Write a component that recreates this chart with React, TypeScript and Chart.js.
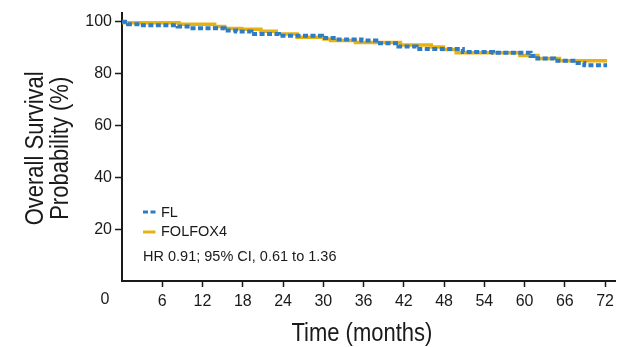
import React, { useEffect, useRef } from "react";
import { Chart, registerables } from "chart.js";

Chart.register(...registerables);

// Kaplan-Meier steps (month, overall survival %)
const flMonths = [0, 0.9, 2.7, 8.3, 10.1, 15.3, 17, 19.3, 23.4, 29.8, 31.9, 35.7, 37.9, 41.2, 43.9, 50.8, 55.3, 60.9, 61.9, 64.4, 67.9, 68.9, 72.3];
const flSurvival = [100, 99.0, 98.6, 98.1, 97.5, 96.6, 96.2, 95.2, 94.6, 93.7, 93.1, 92.7, 91.7, 90.4, 89.5, 88.3, 88.0, 86.8, 85.8, 84.9, 84.1, 83.2, 83.2];

const folfoxMonths = [0, 0.3, 8.5, 13.8, 15.3, 17.8, 20.7, 23, 26.1, 30.1, 31.1, 34.8, 41.5, 46.1, 47.9, 49.8, 59.3, 62, 65.2, 72.3];
const folfoxSurvival = [100, 99.6, 99.0, 98.1, 97.4, 97.1, 96.3, 95.2, 94.0, 93.3, 92.7, 92.0, 91.0, 90.2, 89.3, 88.0, 87.0, 85.8, 84.9, 84.9];

const xTicks = [6, 12, 18, 24, 30, 36, 42, 48, 54, 60, 66, 72];
const yTicks = [20, 40, 60, 80, 100];

const seriesNames = ["FL", "FOLFOX4"];
const hrText = "HR 0.91; 95% CI, 0.61 to 1.36";
const xTitle = "Time (months)";
const yTitle = ["Overall Survival", "Probability (%)"];

const BLUE = "#2E7BC6";
const GOLD = "#E6B212";
const INK = "#1a1a1a";
const TICK_FONT = "'Liberation Sans', Arial, sans-serif";
const TITLE_FONT = "'Liberation Sans', Arial, sans-serif";
const CONDENSE = 0.88;

const toPoints = (xs: number[], ys: number[]) => xs.map((x, i) => ({ x, y: ys[i] }));

const decorPlugin = {
  id: "decor",
  afterDraw(chart: any) {
    const ctx = chart.ctx as CanvasRenderingContext2D;
    const { left, right, top, bottom } = chart.chartArea;
    ctx.save();
    ctx.fillStyle = INK;
    // corner "0"
    ctx.font = `16px ${TICK_FONT}`;
    ctx.textAlign = "center";
    ctx.textBaseline = "middle";
    ctx.fillText("0", left - 17, bottom + 18.5);

    // legend
    const lx = left + 21;
    ctx.lineWidth = 3;
    ctx.lineCap = "butt";
    ctx.strokeStyle = BLUE;
    ctx.setLineDash([5, 2.5]);
    ctx.beginPath();
    ctx.moveTo(lx, bottom - 69);
    ctx.lineTo(lx + 12.5, bottom - 69);
    ctx.stroke();
    ctx.setLineDash([]);
    ctx.strokeStyle = GOLD;
    ctx.beginPath();
    ctx.moveTo(lx, bottom - 49);
    ctx.lineTo(lx + 12.5, bottom - 49);
    ctx.stroke();

    ctx.font = `14.5px ${TICK_FONT}`;
    ctx.textAlign = "left";
    ctx.fillText(seriesNames[0], lx + 18, bottom - 68);
    ctx.fillText(seriesNames[1], lx + 18, bottom - 49.3);
    ctx.fillText(hrText, lx, bottom - 24.5);

    // axis titles (condensed look)
    ctx.font = `25px ${TITLE_FONT}`;
    ctx.textAlign = "center";
    ctx.textBaseline = "alphabetic";
    ctx.save();
    ctx.translate((left + right) / 2 - 7, bottom + 60);
    ctx.scale(CONDENSE, 1);
    ctx.fillText(xTitle, 0, 0);
    ctx.restore();

    ctx.save();
    ctx.translate(0, (top + bottom) / 2 + 1.5);
    ctx.rotate(-Math.PI / 2);
    ctx.scale(CONDENSE, 1);
    ctx.fillText(yTitle[0], 0, 43);
    ctx.fillText(yTitle[1], 0, 68);
    ctx.restore();
    ctx.restore();
  },
};

export default function App() {
  const ref = useRef<HTMLCanvasElement | null>(null);

  useEffect(() => {
    if (!ref.current) return;
    const chart = new Chart(ref.current, {
      type: "line",
      data: {
        datasets: [
          {
            label: seriesNames[0],
            data: toPoints(flMonths, flSurvival),
            borderColor: BLUE,
            borderWidth: 4,
            borderDash: [5, 2.5],
            stepped: true,
            pointRadius: 0,
            fill: false,
          },
          {
            label: seriesNames[1],
            data: toPoints(folfoxMonths, folfoxSurvival),
            borderColor: GOLD,
            borderWidth: 3.5,
            stepped: true,
            pointRadius: 0,
            fill: false,
          },
        ],
      },
      options: {
        responsive: false,
        animation: false,
        devicePixelRatio: 1,
        layout: { padding: { top: 8, right: 0, left: 0, bottom: 0 } },
        plugins: {
          legend: { display: false },
          tooltip: { enabled: false },
          title: { display: false },
        },
        scales: {
          x: {
            type: "linear",
            min: 0,
            max: 73.6,
            afterBuildTicks: (scale: any) => {
              scale.ticks = xTicks.map((v) => ({ value: v }));
            },
            afterFit: (scale: any) => {
              scale.height = 66;
            },
            ticks: {
              color: INK,
              font: { family: TICK_FONT, size: 16 },
              padding: 5,
              maxRotation: 0,
              autoSkip: false,
            },
            grid: {
              drawOnChartArea: false,
              drawTicks: true,
              tickLength: 6,
              tickWidth: 1.5,
              color: INK,
            },
            border: { display: true, color: INK, width: 2 },
          },
          y: {
            type: "linear",
            min: 0,
            max: 103.5,
            afterBuildTicks: (scale: any) => {
              scale.ticks = yTicks.map((v) => ({ value: v }));
            },
            afterFit: (scale: any) => {
              scale.width = 122;
            },
            ticks: {
              color: INK,
              font: { family: TICK_FONT, size: 16 },
              padding: 3,
              autoSkip: false,
            },
            grid: {
              drawOnChartArea: false,
              drawTicks: true,
              tickLength: 7,
              tickWidth: 1.5,
              color: INK,
            },
            border: { display: true, color: INK, width: 2 },
          },
        },
      },
      plugins: [decorPlugin],
    });
    return () => chart.destroy();
  }, []);

  return (
    <div style={{ position: "fixed", left: 0, top: 0, width: 619, height: 347, background: "#fff" }}>
      <canvas ref={ref} width={619} height={347} style={{ display: "block" }} />
    </div>
  );
}
